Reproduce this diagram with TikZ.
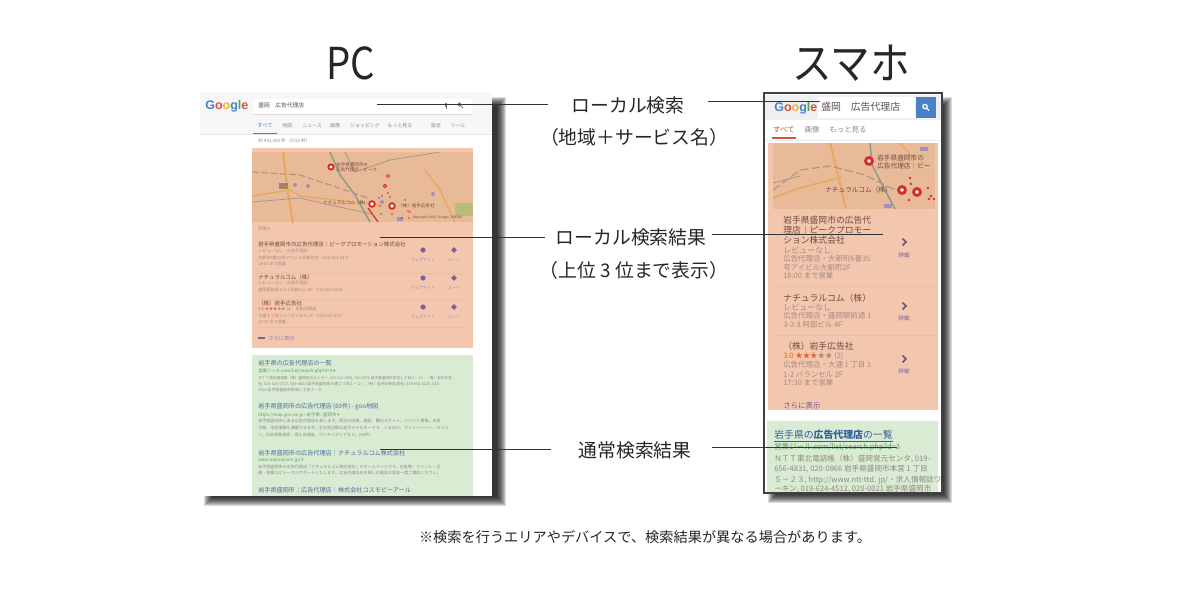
\documentclass[tikz,border=0pt]{standalone}
\usepackage{graphicx}
\usepackage{fontspec}
\setmainfont{Noto Sans CJK JP}
\newfontfamily\latinf{Liberation Sans}
\newfontfamily\djv{DejaVu Sans}
\newcommand\tridown{{\djv ▾}}
\newcounter{tn}
\definecolor{orangebox}{HTML}{F3C6AE}
\definecolor{orangeline}{HTML}{EBBDA5}
\definecolor{mapbg}{HTML}{E9BA98}
\definecolor{greenbox}{HTML}{D9EBD3}
\definecolor{linkblue}{HTML}{4A6E9A}
\definecolor{phlink}{HTML}{2F5E9E}
\definecolor{parkg}{HTML}{B8BE78}
\definecolor{urlgreen}{HTML}{5E9A66}
\definecolor{graytx}{HTML}{8E8A80}
\definecolor{darktx}{HTML}{5A504C}
\definecolor{orangetx}{HTML}{A88A7C}
\definecolor{brown}{HTML}{6E4A3E}
\definecolor{starc}{HTML}{E8622A}
\definecolor{purp}{HTML}{7A5FA0}
\definecolor{gblue}{HTML}{4A80C8}
\definecolor{gred}{HTML}{D9503F}
\definecolor{gyellow}{HTML}{EDB63A}
\definecolor{ggreen}{HTML}{4FA65B}
\definecolor{pinred}{HTML}{D22F2A}
\definecolor{road}{HTML}{E8A860}
\definecolor{railc}{HTML}{A8968A}
\definecolor{rivc}{HTML}{8E9C8C}
\newcommand\tx[5]{\stepcounter{tn}\node[anchor=west,inner sep=0pt,text=#4,font=\fontsize{#3pt}{#3pt}\selectfont] (t\arabic{tn}) at (#1,#2) {#5};}
\newcommand\tc[5]{\stepcounter{tn}\node[anchor=center,inner sep=0pt,text=#4,font=\fontsize{#3pt}{#3pt}\selectfont] (t\arabic{tn}) at (#1,#2) {#5};}
\newcommand\glogo[1]{{\latinf\bfseries\fontsize{#1pt}{#1pt}\selectfont\textcolor{gblue}{G}\textcolor{gred}{o}\textcolor{gyellow}{o}\textcolor{gblue}{g}\textcolor{ggreen}{l}\textcolor{gred}{e}}}
\tikzset{
  conn/.style={draw=black!80,line width=0.75pt},
  bigtitle/.style={inner sep=0pt,font=\fontsize{33pt}{33pt}\selectfont,text=black!85},
  lab/.style={inner sep=0pt,font=\fontsize{14.1pt}{15pt}\selectfont,text=black!85},
  pin/.style={draw=pinred,fill=white,line width=1.4pt},
}
\begin{document}
\begin{tikzpicture}[x=0.75pt,y=-0.75pt]
\useasboundingbox (0,0) rectangle (1200,600);
\fill[white] (0,0) rectangle (1200,600);
% ---------- shadows
\foreach \m in {0,...,9} {
  \fill[black,opacity=.14] (204+\m,97+\m) rectangle (506-\m,506-\m);
  \fill[black,opacity=.14] (768+\m,97+\m) rectangle (952-\m,503-\m);
}
% ---------- PC page
\fill[white] (200,92) rectangle (492,496);
\fill[black!3] (200,92) rectangle (492,134);
\fill[white] (253,99) rectangle (472,114);
\draw[black!15,line width=.5pt] (253,114.5) -- (472,114.5);
\node[anchor=west,inner sep=0pt] (pclogo) at (205,106.5) {\glogo{9.4}};
\tx{258}{105}{4.3}{darktx}{盛岡　広告代理店}
\fill[gred] (445,103) rectangle (447,107);\fill[gblue] (445.5,107) rectangle (446.5,109);
\draw[gblue,line width=.6pt] (459.5,104.5) circle (1.8) (461,106) -- (463,108);
\draw[black!10,line width=.5pt] (200,134.5) -- (492,134.5);
\draw[gblue,line width=1pt] (253,133.5) -- (277,133.5);
\tc{265}{126}{4}{gblue}{すべて}
\tc{287}{126}{3.7}{graytx}{地図}
\tc{312}{126}{3.7}{graytx}{ニュース}
\tc{335}{126}{3.7}{graytx}{画像}
\tc{365}{126}{3.7}{graytx}{ショッピング}
\tc{400}{126}{3.7}{graytx}{もっと見る}
\tc{436}{126}{3.7}{graytx}{設定}
\tc{458}{126}{3.7}{graytx}{ツール}
\tx{258}{141}{3.4}{graytx}{約 432,000 件 （0.55 秒）}
% orange block PC
\fill[orangebox] (252,148) rectangle (473,348);
\fill[mapbg] (252,152) rectangle (473,222);
\begin{scope}
\clip (252,152) rectangle (473,222);
\draw[road,line width=1.6pt] (283,152) -- (287,185) -- (293,224);
\draw[road,line width=1pt] (252,196) -- (290,190) -- (300,196) -- (380,205);
\draw[road,line width=1pt] (425,170) -- (440,190) -- (455,222);
\draw[rivc,line width=1.2pt] (330,152) -- (340,175) -- (355,195) -- (370,222);
\draw[railc,line width=.8pt,dash pattern=on 5pt off 2pt] (252,172) -- (300,175) -- (330,185) -- (368,198);
\draw[railc,line width=.6pt] (252,202) -- (300,198) -- (330,205) -- (372,214);
\draw[railc,line width=.6pt] (345,152) -- (355,172) -- (390,160) -- (440,152);
\draw[pinred,line width=.9pt] (368,208) -- (378,222);
\end{scope}
\fill[black!30!mapbg] (279,183) rectangle (288,189);
\fill[purp!70] (295,185) circle (2);\fill[purp!70] (308,186) circle (2);
\fill[purp!70] (382,202) circle (2);\fill[purp!70] (433,194) circle (2);
\fill[purp!70] (397,217) rectangle (403,221);
\fill[parkg] (455,203) rectangle (473,216);
\draw[pin] (331,167) circle (2.6);
\draw[pin] (372,204) circle (2.8);
\draw[pin] (392,206) circle (2.8);
\foreach \p in {(379,198),(382,196),(390,197),(405,200),(380,206),(381,214),(392,214),(408,211),(410,212),(385,186),(388,193),(409,218),(402,218)} \fill[pinred] \p circle (.9);
\draw[pinred,line width=.5pt] (385,186) circle (1.8);
\draw[pinred,line width=.5pt] (388,176) circle (1.6);
\tx{336}{164.5}{3.4}{brown}{岩手県盛岡市の}
\tx{336}{169.5}{3.4}{brown}{広告代理店｜ピーク}
\tx{323}{203}{3.4}{brown}{ナチュラルコム（株）}
\tx{398}{206}{3.4}{brown}{（株）岩手広告社}
\tx{413}{217.5}{2.4}{brown}{Map data ©2017 Google, ZENRIN}
% listings PC
\tx{258}{229}{3.2}{orangetx}{評価 \tridown}
\tx{258}{244.5}{4.1}{brown}{岩手県盛岡市の広告代理店｜ピークプロモーション株式会社}
\tx{258}{251}{3.1}{orangetx}{レビューなし・広告代理店}
\tx{258}{258}{3.1}{orangetx}{大新町6番35号アイビル大新町2F · 019-613-5331}
\tx{258}{264}{3.1}{orangetx}{18:00 まで営業}
\tx{258}{277}{4.1}{brown}{ナチュラルコム（株）}
\tx{258}{283}{3.1}{orangetx}{レビューなし・広告代理店}
\tx{258}{290}{3.1}{orangetx}{盛岡駅前通 1-2-3 阿部ビル 4F · 019-652-9165}
\tx{258}{303}{4.1}{brown}{（株）岩手広告社}
\tx{258}{309}{3.1}{orangetx}{\textcolor{starc}{3.0 ★★★}★★ (2) · 広告代理店}
\tx{258}{316}{3.1}{orangetx}{大通 1 丁目 1-2 バランセル 2F · 019-623-0717}
\tx{258}{322}{3.1}{orangetx}{17:30 まで営業}
\foreach \yy in {273,299,327} \draw[orangeline,line width=.4pt] (258,\yy) -- (468,\yy);
\foreach \yy in {250,278,307} {
  \fill[purp] (423,\yy) circle (2.6);
  \fill[purp] (454,\yy-2.8) -- (456.8,\yy) -- (454,\yy+2.8) -- (451.2,\yy) -- cycle;
}
\foreach \yy in {260,288,317} {
  \tc{423}{\yy}{3}{purp!70}{ウェブサイト}
  \tc{454}{\yy}{3}{purp!70}{ルート}
}
\draw[purp,line width=.4pt] (258,337) -- (265,337) (258,338.5) -- (265,338.5);
\tx{268}{338}{4}{purp!80}{さらに表示}
% green block PC
\fill[greenbox] (252,355) rectangle (473,496);
\begin{scope}
\clip (200,92) rectangle (492,496);
\tx{258}{363}{4.6}{linkblue}{岩手県の広告代理店の一覧}
\tx{258}{371}{3.3}{urlgreen}{営業ジール.com/list/search.php?d=3 \tridown}
\tx{258}{378}{2.75}{graytx}{ＮＴＴ東北電話帳（株）盛岡営元センター, 019-621-3391, 020-0371 岩手県盛岡市本宮１丁目４－10…（有）岩手広告}
\tx{258}{384.5}{2.9}{graytx}{社, 019-623-0717, 020-0022 岩手県盛岡市大通１丁目１－２…（有）岩手印刷広告社, 019-652-6126, 028-}
\tx{258}{390}{2.9}{graytx}{0323 岩手県盛岡市茶畑１丁目３－８}
\tx{258}{407}{4.6}{linkblue}{岩手県盛岡市の広告代理店 (69件) - goo地図}
\tx{258}{415}{3.3}{urlgreen}{https://map.goo.ne.jp › 岩手県 › 盛岡市 \tridown}
\tx{258}{421}{3.05}{graytx}{岩手県盛岡市にある広告代理店を探します。周辺の店舗、施設、観光スポット、イベント情報、天気}
\tx{258}{428}{3.05}{graytx}{予報、地図情報も満載できます。主な周辺駅は岩手ホテルオークラ、くまねだ、ホットペッパー、ゼンリ}
\tx{258}{435}{3.05}{graytx}{ン、日本気象協会、国土交通省、ウィキペディアなど。(69件)}
\tx{258}{453}{4.6}{linkblue}{岩手県盛岡市の広告代理店｜ナチュラルコム株式会社}
\tx{258}{460}{3.3}{urlgreen}{www.naturalcom.jp/ \tridown}
\tx{258}{467}{3.05}{graytx}{岩手県盛岡市の広告代理店「ナチュラルコム株式会社」のホームページです。広告物・イベント・企}
\tx{258}{473}{3.05}{graytx}{画・参画などトータルサポートいたします。広告代理店をお探しの場合は是非一度ご相談ください。}
\tx{258}{490}{4.6}{linkblue}{岩手県盛岡市｜広告代理店｜株式会社コスモピーアール}
\end{scope}
% ---------- Phone page
\fill[white] (764,93) rectangle (942,493);
\fill[black!6] (765,95) rectangle (941,120);
\fill[white] (818,97) rectangle (915,118);
\node[anchor=west,inner sep=0pt] (phlogo) at (774,108) {\glogo{9.4}};
\tx{821}{107}{7.4}{darktx}{盛岡　広告代理店}
\fill[gblue] (916,97) rectangle (936,118);
\draw[white,line width=.9pt] (925,106.5) circle (2.2) (926.7,108.2) -- (929,110.5);
\tc{784}{130}{5.6}{gred}{すべて}
\tc{812}{130}{5.6}{graytx}{画像}
\tc{848}{130}{5.6}{graytx}{もっと見る}
\draw[gred,line width=1pt] (772,138) -- (796,138);
\draw[black!8,line width=.5pt] (765,140) -- (941,140);
% orange block phone
\fill[orangebox] (768,143) rectangle (938,410);
\fill[mapbg] (773,143) rectangle (935,209);
\begin{scope}
\clip (773,143) rectangle (935,209);
\draw[road,line width=1.6pt] (830,143) -- (838,175) -- (846,209);
\draw[road,line width=1.2pt] (773,198) -- (800,188) -- (842,177);
\draw[road,line width=1pt] (900,143) -- (915,160);
\draw[rivc,line width=1.2pt] (870,143) -- (872,165) -- (895,209);
\draw[railc,line width=.9pt,dash pattern=on 6pt off 2.5pt] (773,190) -- (800,170) -- (830,166) -- (865,175) -- (895,190);
\draw[railc,line width=.6pt] (773,183) -- (800,176);
\fill[purp!70] (920,147) rectangle (928,151);
\fill[purp!70] (884,204) rectangle (892,208);
\end{scope}
\draw[pinred,fill=white,line width=2.2pt] (869,161) circle (3.4);
\draw[pinred,fill=white,line width=2.2pt] (902,190) circle (3.4);
\draw[pinred,fill=white,line width=2.2pt] (917,192) circle (3.4);
\foreach \p in {(910,178),(911,184),(909,200),(928,188),(931,196),(929,199),(934,199)} \fill[pinred] \p circle (1.4);
\tx{877}{157.5}{5}{brown}{岩手県盛岡市の}
\tx{877}{166}{5}{brown}{広告代理店｜ビー}
\tx{825}{190}{5}{brown}{ナチュラルコム（株）}
% listings phone
\tx{783}{220}{6.6}{brown}{岩手県盛岡市の広告代}
\tx{783}{230}{6.6}{brown}{理店｜ピークプロモー}
\tx{783}{240}{6.6}{brown}{ション株式会社}
\tx{783}{250}{6}{orangetx}{レビューなし}
\tx{783}{259}{5.6}{orangetx}{広告代理店・大新町6番35}
\tx{783}{268}{5.6}{orangetx}{号アイビル大新町2F}
\tx{783}{276}{5.6}{orangetx}{18:00 まで営業}
\tx{783}{298}{6.6}{brown}{ナチュラルコム（株）}
\tx{783}{307}{6}{orangetx}{レビューなし}
\tx{783}{316}{5.6}{orangetx}{広告代理店・盛岡駅前通 1}
\tx{783}{325}{5.6}{orangetx}{3-2-3 阿部ビル 4F}
\tx{783}{346}{6.6}{brown}{（株）岩手広告社}
\tx{783}{356}{5.6}{orangetx}{\textcolor{starc}{3.0 ★★★}★★ (2)}
\tx{783}{365}{5.6}{orangetx}{広告代理店・大通 1 丁目 1}
\tx{783}{375}{5.6}{orangetx}{1-2 バランセル 2F}
\tx{783}{383}{5.6}{orangetx}{17:30 まで営業}
\tx{783}{406}{5.6}{purp!85!brown}{さらに表示}
\foreach \yy in {286,335} \draw[orangeline,line width=.5pt] (775,\yy) -- (935,\yy);
\foreach \yy/\zz in {242/255,306/318,359/371} {
  \draw[purp!85!black,line width=1.1pt] (902.5,\yy-3.5) -- (906,\yy) -- (902.5,\yy+3.5);
  \tc{904}{\zz}{4.2}{purp}{詳細}
}
% green block phone
\fill[greenbox] (767,421) rectangle (938,493);
\begin{scope}
\clip (764,93) rectangle (942,493);
\tx{774}{436}{7.4}{phlink}{\underline{岩手県の\textbf{広告代理店}の一覧}}
\tx{774}{447.5}{5.6}{urlgreen}{営業ジール.com/list/search.php?d=3}
\tx{774}{459}{5.7}{graytx}{ＮＴＴ東北電話帳（株）盛岡営元センタ, 019-}
\tx{774}{469}{5.7}{graytx}{656-4831, 020-0866 岩手県盛岡市本宮１丁目}
\tx{774}{480}{5.7}{graytx}{５－２３, http://www.ntt-ttd. jp/・求人情報誌ワ}
\tx{774}{489}{5.7}{graytx}{ーキン, 019-624-4512, 020-0021 岩手県盛岡市}
\end{scope}
\draw[black!75,line width=1pt] (764,93) rectangle (942,493);
% ---------- titles and labels
\node[bigtitle] (pctitle) at (351,63) {\scalebox{.87}[1]{PC}};
\node[bigtitle] (smtitle) at (851,63) {\scalebox{.9}[1]{スマホ}};
\node[lab] (lab1) at (628,105) {ローカル検索};
\node[lab] (lab1b) at (634,137) {（地域＋サービス名）};
\node[lab] (lab2) at (631,237) {ローカル検索結果};
\node[lab] (lab2b) at (634,270) {（上位 3 位まで表示）};
\node[lab] (lab3) at (635,450) {通常検索結果};
\node[inner sep=0pt,font=\fontsize{10.65pt}{11pt}\selectfont,text=black!85] (note) at (645,537) {※検索を行うエリアやデバイスで、検索結果が異なる場合があります。};
% ---------- connectors
\coordinate (pc1) at (377,104);\coordinate (pc1e) at (548,104);
\coordinate (ph1s) at (708,101);\coordinate (ph1) at (820,101);
\coordinate (pc2) at (380,237);\coordinate (pc2e) at (545,237);
\coordinate (ph2s) at (712,234);\coordinate (ph2) at (883,234);
\coordinate (pc3) at (380,449);\coordinate (pc3e) at (551,449);
\coordinate (ph3s) at (712,447);\coordinate (ph3) at (897,447);
\draw[conn] (pc1) -- (pc1e);
\draw[conn] (ph1s) -- (ph1);
\draw[conn] (pc2) -- (pc2e);
\draw[conn] (ph2s) -- (ph2);
\draw[conn] (pc3) -- (pc3e);
\draw[conn] (ph3s) -- (ph3);
\end{tikzpicture}
\end{document}
